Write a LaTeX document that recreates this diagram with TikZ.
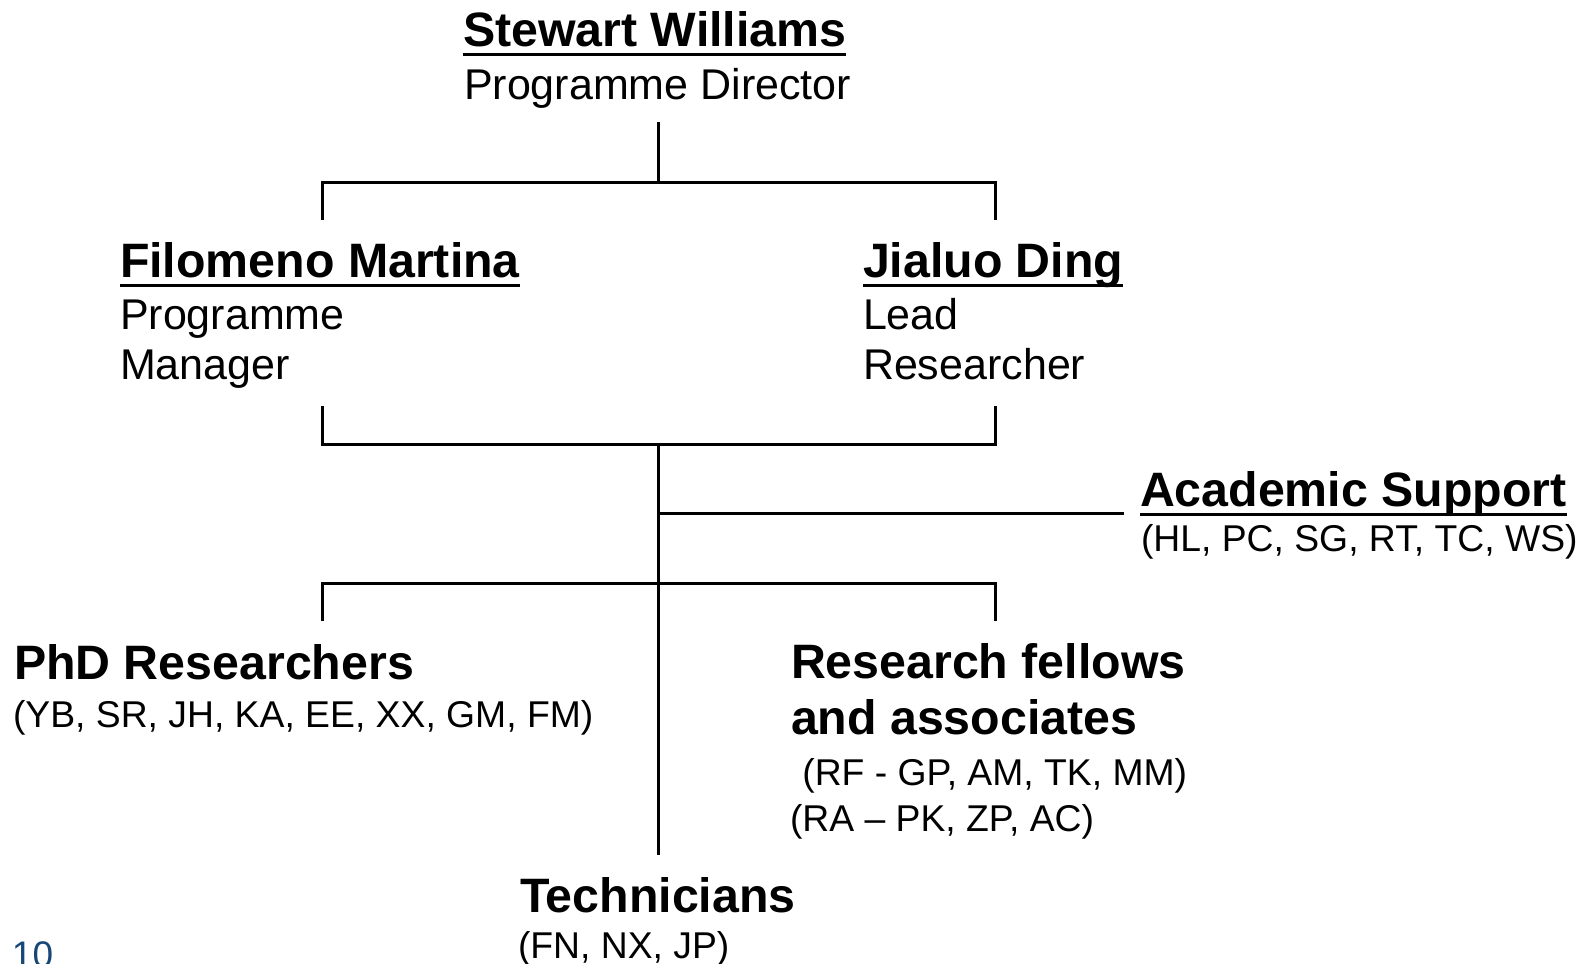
\documentclass[tikz,border=0pt]{standalone}
\usepackage{fontspec}
\setmainfont{Liberation Sans}
\usetikzlibrary{calc}
\definecolor{pagenum}{RGB}{25,70,120}
\tikzset{
  txt/.style={anchor=base west, inner sep=0pt, outer sep=0pt},
  namebold/.style={txt, font=\fontsize{48.3}{50}\bfseries\selectfont},
  roletext/.style={txt, font=\fontsize{43}{50}\selectfont},
  listtext/.style={txt, font=\fontsize{37.3}{44}\selectfont},
  conn/.style={line width=3pt, line cap=rect, line join=miter},
  uline/.style={line width=3pt},
}
\begin{document}
\begin{tikzpicture}[x=1pt,y=-1pt]
\useasboundingbox[fill=white] (0,0) rectangle (1583,964);

% people / groups
\node[namebold] (sw) at (463,46) {Stewart Williams};
\node[roletext] (swr) at (464,99) {Programme Director};

\node[namebold] (fm) at (120,277) {Filomeno Martina};
\node[roletext] (fmr1) at (120,329) {Programme};
\node[roletext] (fmr2) at (120,379) {Manager};

\node[namebold] (jd) at (863,277) {Jialuo Ding};
\node[roletext] (jdr1) at (863,329) {Lead};
\node[roletext] (jdr2) at (863,379) {Researcher};

\node[namebold] (as) at (1140,506) {Academic Support};
\node[listtext] (asl) at (1141,551) {(HL, PC, SG, RT, TC, WS)};

\node[namebold] (phd) at (14,679) {PhD Researchers};
\node[listtext] (phdl) at (13,727) {(YB, SR, JH, KA, EE, XX, GM, FM)};

\node[namebold] (rf1) at (791,678) {Research fellows};
\node[namebold] (rf2) at (791,734) {and associates};
\node[listtext] (rfl1) at (792,785) {\ (RF - GP, AM, TK, MM)};
\node[listtext] (rfl2) at (790,831) {(RA – PK, ZP, AC)};

\node[namebold] (tec) at (520,912) {Technicians};
\node[listtext] (tecl) at (518,958) {(FN, NX, JP)};

\node[txt, font=\fontsize{37}{40}\selectfont, text=pagenum] (pg) at (12,967) {10};

% underlines
\foreach \n in {sw,fm,jd,as}{
  \draw[uline] ($(\n.base west)+(0,8)$) -- ($(\n.base east)+(0,8)$);
}

% connector junction points
\coordinate (topA) at (658,123);
\coordinate (topB) at (658,182);
\coordinate (barL) at (322,182);
\coordinate (barR) at (995,182);
\coordinate (fmT) at (322,218);
\coordinate (jdT) at (995,218);

\coordinate (fmB) at (322,407);
\coordinate (jdB) at (995,407);
\coordinate (midA) at (658,444);
\coordinate (midB) at (658,853);
\coordinate (asJ) at (658,513);
\coordinate (asE) at (1122,513);
\coordinate (lowL) at (322,583);
\coordinate (lowR) at (995,583);
\coordinate (phdT) at (322,619);
\coordinate (rfT) at (995,619);

\draw[conn] (topA) -- (topB);
\draw[conn] (fmT) -- (barL) -- (barR) -- (jdT);
\draw[conn] (fmB) |- (midA) -| (jdB);
\draw[conn] (midA) -- (midB);
\draw[conn] (asJ) -- (asE);
\draw[conn] (phdT) -- (lowL) -- (lowR) -- (rfT);
\end{tikzpicture}
\end{document}
